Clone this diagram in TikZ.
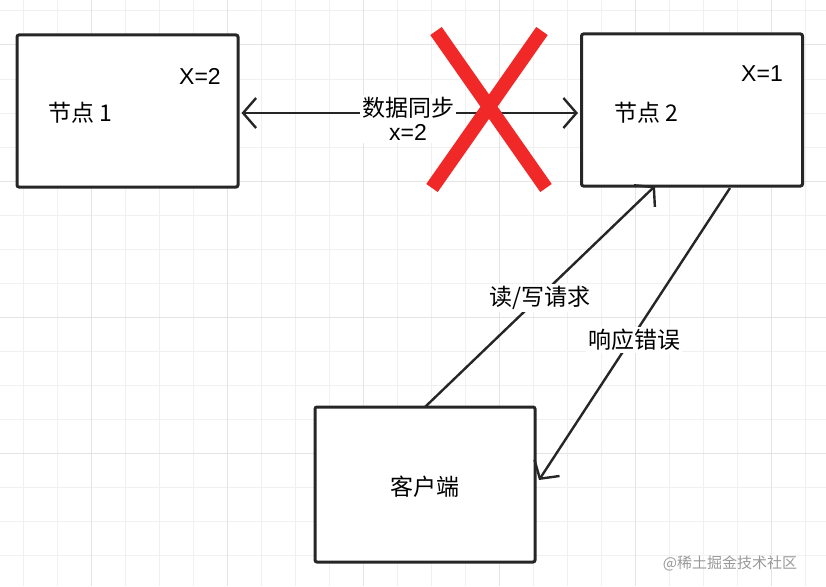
\documentclass[tikz,border=0pt]{standalone}
\usepackage{fontspec}
\setmainfont{Liberation Sans}
\newfontfamily\cjk{Noto Sans CJK SC}
\usetikzlibrary{arrows.meta,positioning}
\definecolor{gridminor}{RGB}{240,240,240}
\definecolor{gridmajor}{RGB}{228,228,228}
\definecolor{crossred}{RGB}{240,40,40}
\tikzset{
  server/.style={draw=black!85,line width=3pt,rounded corners=2pt,fill=white,minimum width=221pt,minimum height=152pt},
  link/.style={line width=2.4pt,draw=black!85},
  lbl/.style={font=\cjk\fontsize{23}{26}\selectfont,fill=white,inner sep=2pt,align=center},
  val/.style={font=\fontsize{23}{26}\selectfont}
}
\begin{document}
\begin{tikzpicture}[x=1pt,y=-1pt,>={Straight Barb[length=13pt,width=30pt]}]
\useasboundingbox (0,0) rectangle (826,586);
%%%GRID
\foreach \gx in {23,57,...,826} \draw[gridminor,line width=1pt] (\gx,0) -- (\gx,586);
\foreach \gy in {11,45,...,586} \draw[gridminor,line width=1pt] (0,\gy) -- (826,\gy);
\foreach \gx in {91,227,...,826} \draw[gridmajor,line width=1pt] (\gx,0) -- (\gx,586);
\foreach \gy in {45,181,317,453} \draw[gridmajor,line width=1pt] (0,\gy) -- (826,\gy);
%%%NODES
\node[server] (n1) at (127.5,111) {};
\node[server] (n2) at (692,110) {};
\node[server,minimum width=220pt,minimum height=155pt] (cl) at (425,484.5) {};
\node[font=\cjk\fontsize{23}{26}\selectfont] at (80,113) {节点 1};
\node[font=\cjk\fontsize{23}{26}\selectfont] at (646,113) {节点 2};
\node[font=\cjk\fontsize{23}{26}\selectfont] at (425,487) {客户端};
\node[val] at (200,76) {X=2};
\node[val] at (762,74) {X=1};
%%%LINKS
\coordinate (up) at (655,186);
\coordinate (dn) at (730,188);
\coordinate (cr) at (539,480);
\draw[link,<->,shorten <=2pt,shorten >=2pt] (n1.east|-0,113) -- (n2.west|-0,113);
\node[lbl] at (408,119) {数据同步\\[-2pt]\fontspec{Liberation Sans}x=2};
\draw[link,->] (cl.north|-0,407) -- (up);
\draw[link,->] (dn) -- (cr);
\node[lbl] at (540,298) {读/写请求};
\node[lbl] at (634,340) {响应错误};
%%%CROSS
\draw[crossred,line width=14pt] (436,31) -- (546,188);
\draw[crossred,line width=14pt] (542,31) -- (432,188);
\node[font=\cjk\fontsize{15}{17}\selectfont,text=black!40] at (730,563) {@稀土掘金技术社区};
\end{tikzpicture}
\end{document}
